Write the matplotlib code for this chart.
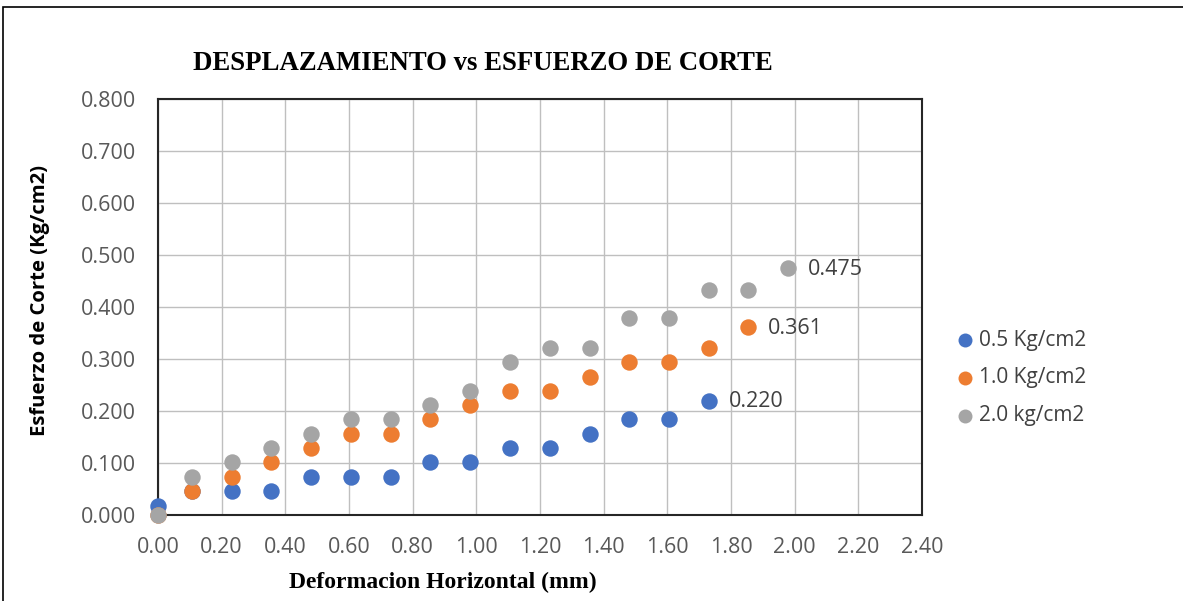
import matplotlib
matplotlib.use("Agg")
import matplotlib.pyplot as plt
from matplotlib.patches import Rectangle

x_blue = [0.0, 0.107, 0.232, 0.355, 0.481, 0.606, 0.732, 0.855, 0.980, 1.106, 1.232, 1.357, 1.480, 1.605, 1.731]
y_blue = [0.018, 0.046, 0.046, 0.046, 0.074, 0.074, 0.074, 0.101, 0.101, 0.129, 0.129, 0.156, 0.184, 0.184, 0.220]

x_orange = [0.0, 0.107, 0.232, 0.355, 0.481, 0.606, 0.732, 0.855, 0.980, 1.106, 1.232, 1.357, 1.480, 1.605, 1.731, 1.854]
y_orange = [0.0, 0.046, 0.074, 0.101, 0.129, 0.156, 0.156, 0.184, 0.211, 0.239, 0.239, 0.266, 0.294, 0.294, 0.321, 0.361]

x_gray = [0.0, 0.107, 0.232, 0.355, 0.481, 0.606, 0.732, 0.855, 0.980, 1.106, 1.232, 1.357, 1.480, 1.605, 1.731, 1.854, 1.979]
y_gray = [0.0, 0.074, 0.101, 0.129, 0.156, 0.184, 0.184, 0.211, 0.239, 0.294, 0.321, 0.321, 0.378, 0.378, 0.433, 0.433, 0.475]

labels = ["0.5 Kg/cm2", "1.0 Kg/cm2", "2.0 kg/cm2"]
colors = ["#4472C4", "#ED7D31", "#A5A5A5"]

x_ticks = [0.0, 0.2, 0.4, 0.6, 0.8, 1.0, 1.2, 1.4, 1.6, 1.8, 2.0, 2.2, 2.4]
y_ticks = [0.0, 0.1, 0.2, 0.3, 0.4, 0.5, 0.6, 0.7, 0.8]

W, H = 1183, 601
fig = plt.figure(figsize=(W / 100, H / 100), dpi=100)
ax = fig.add_axes([158 / W, 1 - 515 / H, (922 - 158) / W, (515 - 99) / H])

series = [(x_blue, y_blue), (x_orange, y_orange), (x_gray, y_gray)]
for (xs, ys), lab, c in zip(series, labels, colors):
    ax.scatter(xs, ys, s=140, color=c, label=lab, zorder=3, linewidths=0, clip_on=False)
    ax.annotate(f"{ys[-1]:.3f}", (xs[-1], ys[-1]), xytext=(14, -1), textcoords="offset points",
                va="center", ha="left", fontsize=15.5, color="#404040", family="Open Sans")

ax.set_xlim(0, 2.4)
ax.set_ylim(0, 0.8)
ax.set_xticks(x_ticks)
ax.set_yticks(y_ticks)
ax.set_xticklabels([f"{v:.2f}" for v in x_ticks])
ax.set_yticklabels([f"{v:.3f}" for v in y_ticks])
ax.tick_params(axis="both", length=0, labelsize=15.5, labelcolor="#595959")
ax.tick_params(axis="y", pad=16)
ax.tick_params(axis="x", pad=16)
for lab in ax.get_xticklabels() + ax.get_yticklabels():
    lab.set_family("Open Sans")
ax.grid(True, color="#bfbfbf", linewidth=1.0, zorder=0)
ax.set_axisbelow(True)
for sp in ax.spines.values():
    sp.set_color("#262626")
    sp.set_linewidth(1.5)

fig.text(483 / W, 1 - 63 / H, "DESPLAZAMIENTO vs ESFUERZO DE CORTE", ha="center", va="center",
         fontsize=19.3, fontweight="bold", family="Liberation Serif")
fig.text(443 / W, 1 - 582 / H, "Deformacion Horizontal (mm)", ha="center", va="center",
         fontsize=17, fontweight="bold", family="Liberation Serif")
fig.text(40 / W, 1 - 300 / H, "Esfuerzo de Corte (Kg/cm2)", ha="center", va="center", rotation=90,
         fontsize=14.6, fontweight="bold", family="Open Sans")

leg = fig.legend(loc="center left", bbox_to_anchor=(936 / W, 1 - 378 / H), frameon=False,
                 prop={"family": "Open Sans", "size": 15}, handletextpad=-0.35, labelspacing=0.8,
                 markerscale=0.85, borderaxespad=0)
for t in leg.get_texts():
    t.set_color("#404040")

fig.patches.append(Rectangle((3 / W, -0.01), 1.1, 1 - 7 / H + 0.01, transform=fig.transFigure,
                             fill=False, edgecolor="black", linewidth=1.2))

fig.savefig("out.png", dpi=100)
